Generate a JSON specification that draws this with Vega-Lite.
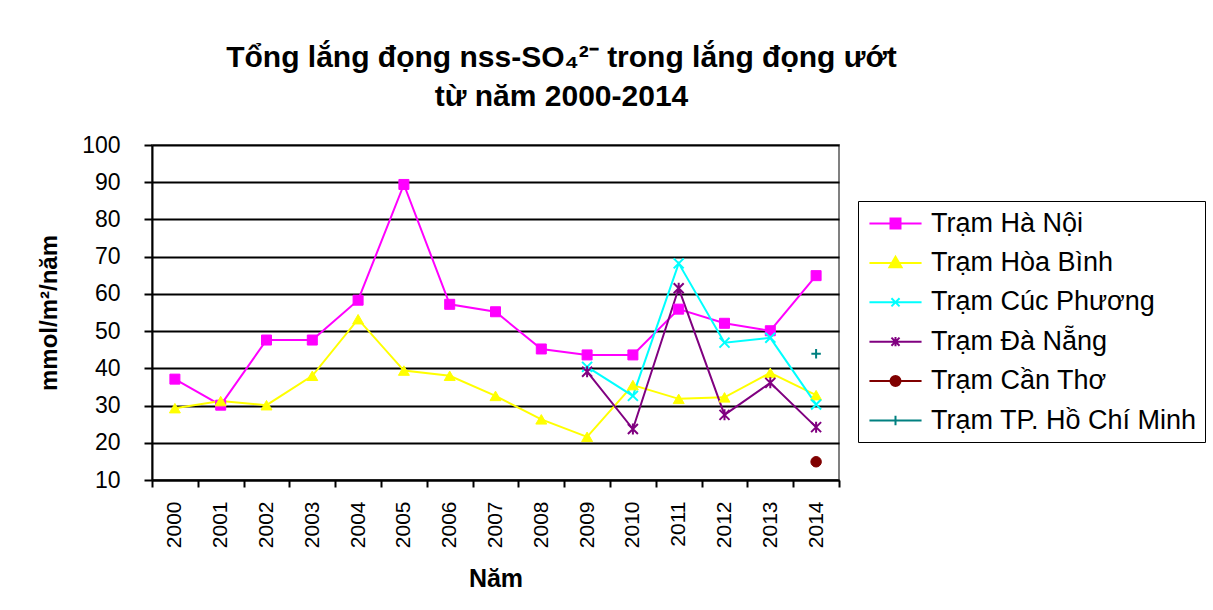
{
  "$schema": "https://vega.github.io/schema/vega-lite/v6.json",
  "autosize": "none",
  "width": 687,
  "height": 335,
  "padding": {"left": 152, "top": 145, "right": 374, "bottom": 130},
  "background": "white",
  "title": {
    "text": ["Tổng lắng đọng nss-SO₄²⁻ trong lắng đọng ướt", "từ năm 2000-2014"],
    "font": "Liberation Sans",
    "fontSize": 30,
    "fontWeight": "bold",
    "color": "black",
    "anchor": "middle",
    "frame": "group",
    "dx": 66,
    "offset": 22,
    "lineHeight": 39
  },
  "data": {
    "values": [
      {"year": "2000", "station": "Trạm Hà Nội", "value": 37.1},
      {"year": "2001", "station": "Trạm Hà Nội", "value": 30.1},
      {"year": "2002", "station": "Trạm Hà Nội", "value": 47.6},
      {"year": "2003", "station": "Trạm Hà Nội", "value": 47.6},
      {"year": "2004", "station": "Trạm Hà Nội", "value": 58.3},
      {"year": "2005", "station": "Trạm Hà Nội", "value": 89.4},
      {"year": "2006", "station": "Trạm Hà Nội", "value": 57.2},
      {"year": "2007", "station": "Trạm Hà Nội", "value": 55.2},
      {"year": "2008", "station": "Trạm Hà Nội", "value": 45.2},
      {"year": "2009", "station": "Trạm Hà Nội", "value": 43.6},
      {"year": "2010", "station": "Trạm Hà Nội", "value": 43.6},
      {"year": "2011", "station": "Trạm Hà Nội", "value": 55.9},
      {"year": "2012", "station": "Trạm Hà Nội", "value": 52.1},
      {"year": "2013", "station": "Trạm Hà Nội", "value": 50.1},
      {"year": "2014", "station": "Trạm Hà Nội", "value": 64.9},
      {"year": "2000", "station": "Trạm Hòa Bình", "value": 29.3},
      {"year": "2001", "station": "Trạm Hòa Bình", "value": 31.2},
      {"year": "2002", "station": "Trạm Hòa Bình", "value": 30.1},
      {"year": "2003", "station": "Trạm Hòa Bình", "value": 38.0},
      {"year": "2004", "station": "Trạm Hòa Bình", "value": 53.2},
      {"year": "2005", "station": "Trạm Hòa Bình", "value": 39.4},
      {"year": "2006", "station": "Trạm Hòa Bình", "value": 38.0},
      {"year": "2007", "station": "Trạm Hòa Bình", "value": 32.6},
      {"year": "2008", "station": "Trạm Hòa Bình", "value": 26.3},
      {"year": "2009", "station": "Trạm Hòa Bình", "value": 21.6},
      {"year": "2010", "station": "Trạm Hòa Bình", "value": 35.5},
      {"year": "2011", "station": "Trạm Hòa Bình", "value": 31.8},
      {"year": "2012", "station": "Trạm Hòa Bình", "value": 32.2},
      {"year": "2013", "station": "Trạm Hòa Bình", "value": 38.8},
      {"year": "2014", "station": "Trạm Hòa Bình", "value": 32.8},
      {"year": "2009", "station": "Trạm Cúc Phương", "value": 40.4},
      {"year": "2010", "station": "Trạm Cúc Phương", "value": 32.6},
      {"year": "2011", "station": "Trạm Cúc Phương", "value": 68.2},
      {"year": "2012", "station": "Trạm Cúc Phương", "value": 46.9},
      {"year": "2013", "station": "Trạm Cúc Phương", "value": 48.2},
      {"year": "2014", "station": "Trạm Cúc Phương", "value": 30.3},
      {"year": "2009", "station": "Trạm Đà Nẵng", "value": 39.1},
      {"year": "2010", "station": "Trạm Đà Nẵng", "value": 23.7},
      {"year": "2011", "station": "Trạm Đà Nẵng", "value": 61.5},
      {"year": "2012", "station": "Trạm Đà Nẵng", "value": 27.5},
      {"year": "2013", "station": "Trạm Đà Nẵng", "value": 36.1},
      {"year": "2014", "station": "Trạm Đà Nẵng", "value": 24.2},
      {"year": "2014", "station": "Trạm Cần Thơ", "value": 14.9},
      {"year": "2014", "station": "Trạm TP. Hồ Chí Minh", "value": 43.9}
    ]
  },
  "encoding": {
    "x": {
      "field": "year",
      "type": "ordinal",
      "bandPosition": 0.5,
      "scale": {"type": "band", "paddingInner": 0, "paddingOuter": 0},
      "axis": {
        "title": "Năm",
        "titleFont": "Liberation Sans",
        "titleFontSize": 25,
        "titleFontWeight": "bold",
        "titleColor": "black",
        "titlePadding": 19,
        "labelAngle": -90,
        "labelFont": "Liberation Sans",
        "labelFontSize": 21,
        "labelColor": "black",
        "labelPadding": 14,
        "tickBand": "extent",
        "tickSize": 7,
        "tickWidth": 2,
        "tickColor": "black",
        "domainColor": "black",
        "domainWidth": 2,
        "grid": false
      }
    },
    "y": {
      "field": "value",
      "type": "quantitative",
      "scale": {"domain": [10, 100], "nice": false, "zero": false},
      "axis": {
        "title": "mmol/m²/năm",
        "titleFont": "Liberation Sans",
        "titleFontSize": 24,
        "titleFontWeight": "bold",
        "titleColor": "black",
        "titlePadding": 20,
        "values": [10, 20, 30, 40, 50, 60, 70, 80, 90, 100],
        "labelFont": "Liberation Sans",
        "labelFontSize": 23,
        "labelColor": "black",
        "labelPadding": 24,
        "tickSize": 8,
        "tickWidth": 2,
        "tickColor": "black",
        "domainColor": "black",
        "domainWidth": 2,
        "grid": true,
        "gridColor": "black",
        "gridWidth": 2,
        "gridOpacity": 1
      }
    }
  },
  "layer": [
    {
      "mark": {"type": "line", "strokeWidth": 2},
      "encoding": {
        "stroke": {
          "field": "station",
          "type": "nominal",
          "scale": {
            "domain": ["Trạm Hà Nội", "Trạm Hòa Bình", "Trạm Cúc Phương", "Trạm Đà Nẵng", "Trạm Cần Thơ", "Trạm TP. Hồ Chí Minh"],
            "range": ["#FF00FF", "#FFFF00", "#00FFFF", "#800080", "#800000", "#008080"]
          },
          "legend": {
            "title": null,
            "orient": "none",
            "legendX": 706,
            "legendY": 56,
            "padding": 8,
            "strokeColor": "black",
            "fillColor": "white",
            "labelFont": "Liberation Sans",
            "labelFontSize": 27,
            "labelColor": "black",
            "labelLimit": 400,
            "labelOffset": 21,
            "symbolOffset": 15,
            "rowPadding": 11.4,
            "symbolSize": 729,
            "symbolStrokeWidth": 2,
            "symbolOpacity": 1,
            "encode": {
              "symbols": {
                "update": {
                  "shape": {"signal": "datum.value == 'Trạm Hà Nội' ? 'M-1.93,0H1.93M-0.37,-0.37H0.37V0.37H-0.37Z' : datum.value == 'Trạm Hòa Bình' ? 'M-1.93,0H1.93M0,-0.45L0.45,0.32H-0.45Z' : datum.value == 'Trạm Cúc Phương' ? 'M-1.93,0H1.93M-0.3,-0.3L0.3,0.3M-0.3,0.3L0.3,-0.3' : datum.value == 'Trạm Đà Nẵng' ? 'M-1.93,0H1.93M-0.3,-0.3L0.3,0.3M-0.3,0.3L0.3,-0.3M0,-0.34V0.34' : datum.value == 'Trạm Cần Thơ' ? 'M-1.93,0H1.93M0.37,0A0.37,0.37,0,1,1,-0.37,0A0.37,0.37,0,1,1,0.37,0Z' : 'M-1.93,0H1.93M0,-0.35V0.35'"},
                  "fill": {"signal": "datum.value == 'Trạm Hà Nội' ? '#FF00FF' : datum.value == 'Trạm Hòa Bình' ? '#FFFF00' : datum.value == 'Trạm Cần Thơ' ? '#800000' : 'transparent'"},
                  "fillOpacity": {"value": 1},
                  "strokeWidth": {"value": 2}
                }
              }
            }
          }
        }
      }
    },
    {
      "transform": [{"filter": "datum.station == 'Trạm Hà Nội'"}],
      "mark": {"type": "point", "shape": "square", "filled": true, "fill": "#FF00FF", "stroke": "#FF00FF", "strokeWidth": 1, "size": 100, "opacity": 1}
    },
    {
      "transform": [{"filter": "datum.station == 'Trạm Hòa Bình'"}],
      "mark": {"type": "point", "shape": "triangle-up", "filled": true, "fill": "#FFFF00", "stroke": "#FFFF00", "strokeWidth": 1, "size": 120, "opacity": 1}
    },
    {
      "transform": [{"filter": "datum.station == 'Trạm Cúc Phương'"}],
      "mark": {"type": "point", "shape": "M-1,-1L1,1M-1,1L1,-1", "filled": false, "stroke": "#00FFFF", "strokeWidth": 2, "size": 100, "opacity": 1}
    },
    {
      "transform": [{"filter": "datum.station == 'Trạm Đà Nẵng'"}],
      "mark": {"type": "point", "shape": "M-1,-1L1,1M-1,1L1,-1M0,-1.1V1.1", "filled": false, "stroke": "#800080", "strokeWidth": 2, "size": 100, "opacity": 1}
    },
    {
      "transform": [{"filter": "datum.station == 'Trạm Cần Thơ'"}],
      "mark": {"type": "point", "shape": "circle", "filled": true, "fill": "#800000", "stroke": "#800000", "strokeWidth": 1, "size": 110, "opacity": 1}
    },
    {
      "transform": [{"filter": "datum.station == 'Trạm TP. Hồ Chí Minh'"}],
      "mark": {"type": "point", "shape": "M-1,0H1M0,-1V1", "filled": false, "stroke": "#008080", "strokeWidth": 2, "size": 90, "opacity": 1}
    }
  ],
  "config": {
    "view": {"stroke": "#808080", "strokeWidth": 2},
    "font": "Liberation Sans"
  }
}
